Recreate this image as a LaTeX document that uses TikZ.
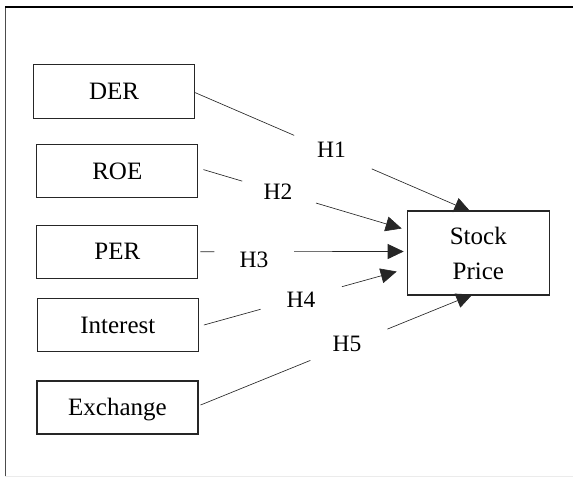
\documentclass[tikz,border=0pt]{standalone}
\usepackage{fontspec}
\setmainfont{Liberation Serif}
\usetikzlibrary{arrows.meta,calc}
\tikzset{
  varbox/.style={draw=black!85, line width=1.2pt, minimum width=161pt, inner sep=0pt,
    font=\fontsize{25}{30}\selectfont, text height=16.5pt, text depth=0pt},
  hlab/.style={inner sep=0pt, font=\fontsize{23.5}{28}\selectfont, text height=15.5pt, text depth=0pt},
  conn/.style={draw=black!85, line width=0.65pt},
  arr/.style={conn, -{Triangle[length=16pt,width=15pt]}}
}
\begin{document}
\begin{tikzpicture}[x=1pt,y=-1pt]
\useasboundingbox (0,0) rectangle (573,477);
% frame
\draw[black!70, line width=1.2pt] (5.5,7) -- (5.5,477);
\draw[black, line width=1.4pt] (5,7) -- (573,7);
\draw[black!8, line width=1pt] (5,476) -- (573,476);
% boxes
\node[varbox, minimum height=54pt] (der) at (114,91.3) {DER};
\node[varbox, minimum height=53pt] (roe) at (117.3,171.3) {ROE};
\node[varbox, minimum height=53pt] (per) at (117.3,251.7) {PER};
\node[varbox, minimum height=53.5pt] (int) at (117.8,325) {Interest};
\node[varbox, minimum height=53pt] (exc) at (117.5,407.5) {Exchange};
\node[draw=black!85, line width=1.2pt, minimum width=142pt, minimum height=84pt, inner sep=0pt,
  align=center, font=\fontsize{25}{35}\selectfont] (sp) at (478.3,253) {Stock\\Price};
% labels
\node[hlab] (h1) at (331.5,149.5) {H1};
\node[hlab] (h2) at (278,192) {H2};
\node[hlab] (h3) at (254,260) {H3};
\node[hlab] (h4) at (301,299.7) {H4};
\node[hlab] (h5) at (347,344) {H5};
% connector endpoints
\coordinate (s1) at ([yshift=-1.3pt]der.east);
\coordinate (t1) at ([xshift=-8pt,yshift=-1pt]sp.north);
\coordinate (s2) at ([xshift=5pt,yshift=1.7pt]roe.east);
\coordinate (t2) at ([xshift=-5pt,yshift=24.5pt]sp.west);
\coordinate (s3) at ([xshift=2pt]per.east);
\coordinate (t3) at ([xshift=-3pt,yshift=1.5pt]sp.west);
\coordinate (s4) at ([xshift=5pt]int.east);
\coordinate (t4) at ([xshift=-10pt,yshift=-18.5pt]sp.west);
\coordinate (s5) at ([xshift=2pt,yshift=2.5pt]exc.east);
\coordinate (t5) at ([xshift=-6pt,yshift=1pt]sp.south);
% connectors
\draw[conn] (s1) -- ($(s1)!0.36!(t1)$);
\draw[arr] ($(s1)!0.642!(t1)$) -- (t1);
\draw[conn] (s2) -- ($(s2)!0.196!(t2)$);
\draw[arr] ($(s2)!0.568!(t2)$) -- (t2);
\draw[conn] (s3) -- ($(s3)!0.069!(t3)$);
\draw[arr] ($(s3)!0.461!(t3)$) -- (t3);
\draw[conn] (s4) -- ($(s4)!0.294!(t4)$);
\draw[arr] ($(s4)!0.716!(t4)$) -- (t4);
\draw[conn] (s5) -- ($(s5)!0.404!(t5)$);
\draw[arr] ($(s5)!0.6875!(t5)$) -- (t5);
\end{tikzpicture}
\end{document}
